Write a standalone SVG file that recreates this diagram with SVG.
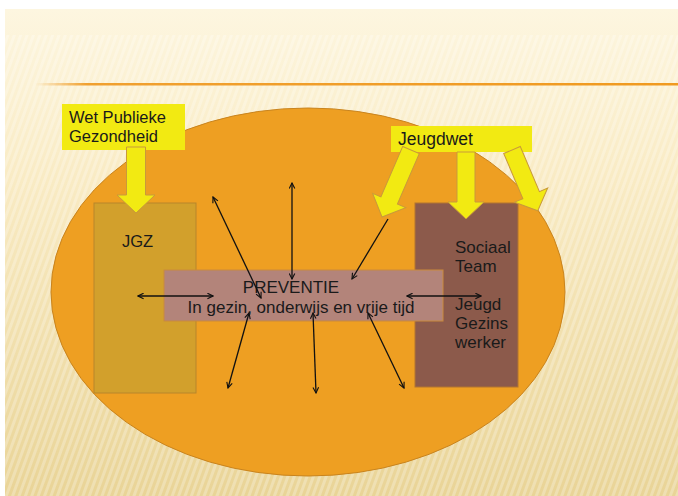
<svg xmlns="http://www.w3.org/2000/svg" width="678" height="496" viewBox="0 0 678 496">
<defs>
<linearGradient id="bg" x1="0" y1="0" x2="0" y2="1">
<stop offset="0" stop-color="#FDF6E0"/>
<stop offset="0.35" stop-color="#F9EBC4"/>
<stop offset="1" stop-color="#E9D497"/>
</linearGradient>
<pattern id="stripes" width="6" height="6" patternUnits="userSpaceOnUse" patternTransform="rotate(20)">
<rect width="3" height="6" fill="#FFFFFF" opacity="0.25"/>
</pattern>
<linearGradient id="line" x1="0" y1="0" x2="1" y2="0">
<stop offset="0" stop-color="#F0A030" stop-opacity="0"/>
<stop offset="0.08" stop-color="#F0A030"/>
<stop offset="1" stop-color="#F09A20"/>
</linearGradient>
<marker id="ah" viewBox="0 0 10 10" refX="9" refY="5" markerWidth="7" markerHeight="7" orient="auto-start-reverse" markerUnits="userSpaceOnUse">
<path d="M1,1 L9,5 L1,9" fill="none" stroke="#111" stroke-width="1.6"/>
</marker>
</defs>
<style>
.txt{font-family:"Liberation Sans",Arial,sans-serif;fill:#1a1a1a}
.yel{fill:#F2EA12}
.yarrow{fill:#F2EA12;stroke:#C99A3A;stroke-width:1}
.con{stroke:#111;stroke-width:1.3;fill:none}
</style>
<rect x="0" y="0" width="678" height="496" fill="#FFFFFF"/>
<rect x="5" y="9" width="673" height="487" fill="url(#bg)"/>
<rect x="5" y="35" width="673" height="461" fill="url(#stripes)"/>
<rect x="35" y="83" width="643" height="2.5" fill="url(#line)"/>

<g id="circle">
<ellipse cx="308" cy="292" rx="257" ry="184" fill="#EE9F22" stroke="#C9841E" stroke-width="1"/>
</g>

<g id="jgz">
<rect x="94" y="203" width="102" height="190" fill="#D2A02C" stroke="#B8862A" stroke-width="1"/>
<text class="txt" x="122" y="247" font-size="16.5">JGZ</text>
</g>

<g id="sociaal-team">
<rect x="415" y="203" width="103" height="184" fill="#8C5A4B" stroke="#B27431" stroke-width="1"/>
<text class="txt" x="455" y="253" font-size="17">Sociaal</text>
<text class="txt" x="455" y="272" font-size="17">Team</text>
<text class="txt" x="455" y="310" font-size="17">Jeugd</text>
<text class="txt" x="455" y="329" font-size="17">Gezins</text>
<text class="txt" x="455" y="348" font-size="17">werker</text>
</g>

<g id="preventie">
<rect x="164" y="270" width="279" height="51" fill="#B3847A" stroke="#C98A3C" stroke-width="1"/>
<text class="txt" x="291" y="293" font-size="17" text-anchor="middle">PREVENTIE</text>
<text class="txt" x="301" y="313" font-size="17" text-anchor="middle">In gezin, onderwijs en vrije tijd</text>
</g>

<g id="wet-publieke-gezondheid">
<rect class="yel" x="62" y="104" width="123" height="46"/>
<text class="txt" x="69" y="123" font-size="16.5">Wet Publieke</text>
<text class="txt" x="69" y="142" font-size="16.5">Gezondheid</text>
<path class="yarrow" transform="translate(136,147)" d="M-9.5,0 H9.5 V48 H19 L0,66 L-19,48 H-9.5 Z"/>
</g>

<g id="jeugdwet">
<rect class="yel" x="391" y="126" width="141" height="26"/>
<text class="txt" x="398" y="145" font-size="17.5">Jeugdwet</text>
<path class="yarrow" transform="translate(411,150) rotate(23.4)" d="M-9,0 H9 V55 H18 L0,73 L-18,55 H-9 Z"/>
<path class="yarrow" transform="translate(466,152)" d="M-9,0 H9 V50 H18 L0,67 L-18,50 H-9 Z"/>
<path class="yarrow" transform="translate(512,150) rotate(-23)" d="M-9,0 H9 V49 H18 L0,66 L-18,49 H-9 Z"/>
</g>

<g id="connectors">
<line class="con" x1="138" y1="296" x2="213" y2="296" marker-start="url(#ah)" marker-end="url(#ah)"/>
<line class="con" x1="407" y1="296" x2="481" y2="296" marker-start="url(#ah)" marker-end="url(#ah)"/>
<line class="con" x1="292" y1="183" x2="292" y2="279" marker-start="url(#ah)" marker-end="url(#ah)"/>
<line class="con" x1="213" y1="197" x2="261" y2="298" marker-start="url(#ah)" marker-end="url(#ah)"/>
<line class="con" x1="388" y1="219" x2="352" y2="279" marker-end="url(#ah)"/>
<line class="con" x1="249" y1="313" x2="228" y2="388" marker-start="url(#ah)" marker-end="url(#ah)"/>
<line class="con" x1="313" y1="313" x2="316" y2="393" marker-start="url(#ah)" marker-end="url(#ah)"/>
<line class="con" x1="368" y1="313" x2="404" y2="388" marker-start="url(#ah)" marker-end="url(#ah)"/>
</g>
</svg>
